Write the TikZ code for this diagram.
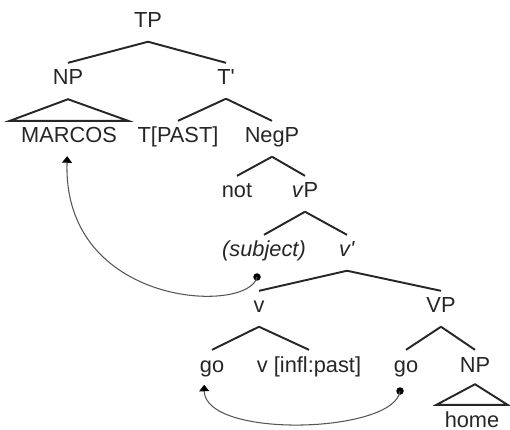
\documentclass[tikz,border=0pt]{standalone}
\usepackage{fontspec}
\setmainfont{Liberation Sans}
\usepackage{tikz}
\usetikzlibrary{arrows.meta, calc}
\definecolor{ink}{HTML}{262626}
\definecolor{trail}{HTML}{555555}

\begin{document}
\begin{tikzpicture}[
    every node/.style={font=\fontsize{12.4}{14}\selectfont, text=ink},
    word/.style={anchor=base, inner sep=0pt, text height=9pt, text depth=2.5pt},
    branch/.style={line width=1.1pt, ink},
    roof/.style={line width=1.1pt, ink, line join=miter},
    trace/.style={circle, fill=black, inner sep=0pt, minimum size=1.5mm},
    move/.style={line width=0.6pt, trail, -{Triangle[width=2mm, length=1.3mm, color=black]}}
]
    \useasboundingbox (0,0) rectangle (10.2,8.58);

    % labels, placed on their baselines
    \node[word] (TP)     at (2.96,8.02) {TP};
    \node[word] (NP)     at (1.36,6.88) {NP};
    \node[word] (Tbar)   at (4.52,6.88) {T\textquotesingle};
    \node[word] (MARCOS) at (1.38,5.72) {MARCOS};
    \node[word] (T)      at (3.56,5.72) {T[PAST]};
    \node[word] (NegP)   at (5.44,5.72) {NegP};
    \node[word] (not)    at (4.74,4.62) {not};
    \node[word] (vP)     at (6.10,4.62) {\textit{v}P};
    \node[word] (subj)   at (5.28,3.44) {\textit{(subject)}};
    \node[word] (vbar)   at (6.94,3.44) {\textit{v\textquotesingle}};
    \node[word] (v)      at (5.18,2.32) {v};
    \node[word] (VP)     at (8.82,2.32) {VP};
    \node[word] (go)     at (4.24,1.14) {go};
    \node[word] (vinfl)  at (6.18,1.14) {v [infl:past]};
    \node[word] (go2)    at (8.12,1.14) {go};
    \node[word] (NP2)    at (9.50,1.14) {NP};
    \node[word] (home)   at (9.44,0.04) {home};

    % branches
    \draw[branch] ([yshift=-1.8mm]TP.south)   -- ([yshift=1.2mm]NP.north);
    \draw[branch] ([yshift=-1.8mm]TP.south)   -- ([yshift=1.2mm]Tbar.north);
    \draw[branch] ([yshift=-1.8mm]Tbar.south) -- ([yshift=1.2mm]T.north);
    \draw[branch] ([yshift=-1.8mm]Tbar.south) -- ([yshift=1.2mm]NegP.north);
    \draw[branch] ([yshift=-1.8mm]NegP.south) -- ([yshift=1.2mm]not.north);
    \draw[branch] ([yshift=-1.8mm]NegP.south) -- ([yshift=1.2mm]vP.north);
    \draw[branch] ([yshift=-1.8mm]vP.south)   -- ([yshift=1.2mm]subj.north);
    \draw[branch] ([yshift=-1.8mm]vP.south)   -- ([yshift=1.2mm]vbar.north);
    \draw[branch] ([yshift=-1.8mm]vbar.south) -- ([yshift=1.2mm]v.north);
    \draw[branch] ([yshift=-1.8mm]vbar.south) -- ([yshift=1.2mm]VP.north);
    \draw[branch] ([yshift=-1.8mm]v.south)    -- ([yshift=1.2mm]go.north);
    \draw[branch] ([yshift=-1.8mm]v.south)    -- ([yshift=1.2mm]vinfl.north);
    \draw[branch] ([yshift=-1.8mm]VP.south)   -- ([yshift=1.2mm]go2.north);
    \draw[branch] ([yshift=-1.8mm]VP.south)   -- ([yshift=1.2mm]NP2.north);

    % roofs over unanalysed phrases
    \draw[roof] ([yshift=-1.9mm]NP.south)
        -- ([shift={(-2.2mm,1.2mm)}]MARCOS.north west)
        -- ([shift={(2.2mm,1.2mm)}]MARCOS.north east) -- cycle;
    \draw[roof] ([yshift=-1.5mm]NP2.south)
        -- ([shift={(-1.6mm,1.2mm)}]home.north west)
        -- ([shift={(1.6mm,1.2mm)}]home.north east) -- cycle;

    % movement traces
    \node[trace] (t1) at (5.14,3.04) {};
    \node[trace] (t2) at (8.00,0.76) {};
    \draw[move, shorten >=1.7mm] (t1.center) .. controls +(-0.16,-0.75) and +(-0.10,-3.2)
        .. ([xshift=-0.3mm]MARCOS.south);
    \draw[move, shorten >=1.6mm] (t2.center) .. controls +(-0.10,-0.85) and +(0.02,-1.25)
        .. ([xshift=-1.6mm]go.south);
\end{tikzpicture}
\end{document}
